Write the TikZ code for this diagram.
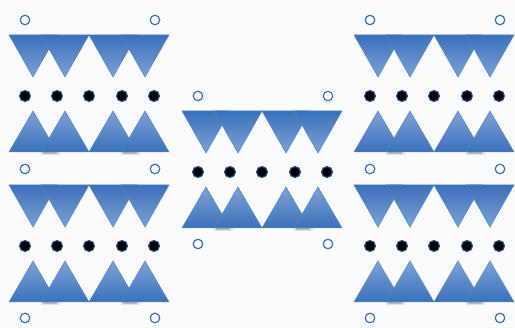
\documentclass[tikz,border=0pt]{standalone}
\usepackage{tikz}
\usetikzlibrary{positioning}
\definecolor{layerdark}{HTML}{3A71BB}
\definecolor{layermid}{HTML}{4679C0}
\definecolor{layerlight}{HTML}{7DA1D6}
\definecolor{layeredge}{HTML}{4F84C8}
\definecolor{paper}{HTML}{FAFBFD}

\begin{document}
\begin{tikzpicture}[
    x = 1pt, y = -1pt,
    down/.style = {
      draw = layeredge, line width = 0.5pt,
      top color = layerdark, middle color = layermid, bottom color = layerlight
    },
    up/.style = {
      draw = layeredge, line width = 0.5pt,
      top color = layerlight, middle color = layermid, bottom color = layerdark
    },
    ion/.style = {
      circle, draw = layerdark!75!black, fill = black, line width = 1.1pt,
      inner sep = 0pt, minimum size = 11pt
    },
    site/.style = {
      circle, draw = layerdark, fill = white, line width = 1.2pt,
      inner sep = 0pt, minimum size = 9.5pt
    },
    castshade/.style = {
      line width = 1.5pt, black, opacity = 0.18
    },
    ]

    % background
    \fill [paper] (0,0) rectangle (515,328);
    \useasboundingbox (0,0) rectangle (515,328);

    % draw layers
    \foreach \bx/\by/\bn in {9/35/a, 9/185/b, 182/111/c, 354/35/d, 354/185/e} {
      \begin{scope}[shift = {(\bx,\by)}]
        % shadows under the overlapping triangles
        \foreach \t in {32, 112} {
          \draw  [castshade]  (\t+2,118) -- (\t+16,118);
          \draw  [castshade, line width = 3pt, opacity = 0.1]  (\t,118.5) -- (\t+19,118.5);
        }

        % upper row, pointing down
        \foreach \t in {0, 32, 80, 112}
        \path  [down]  (\t,0) -- ++(48,0) -- ++(-24,42) -- cycle;

        % lower row, pointing up
        \foreach \t in {0, 32, 80, 112}
        \path  [up]  (\t,117) -- ++(48,0) -- ++(-24,-41) -- cycle;

        % draw ions
        \foreach \d [count = \k] in {16, 48, 80, 113, 145}
        \node  [ion]  (ion-\bn\k)  at  (\d,61)  {};
      \end{scope}
    }

    % draw open sites
    \foreach \sx in {25, 155, 370, 500}
    \foreach \sy [count = \k] in {20, 169, 318}
    \node  [site]  (site-\sx-\k)  at  (\sx,\sy)  {};

    \foreach \sx in {198, 328}
    \foreach \sy [count = \k] in {96, 244}
    \node  [site]  (site-\sx-\k)  at  (\sx,\sy)  {};
\end{tikzpicture}
\end{document}
